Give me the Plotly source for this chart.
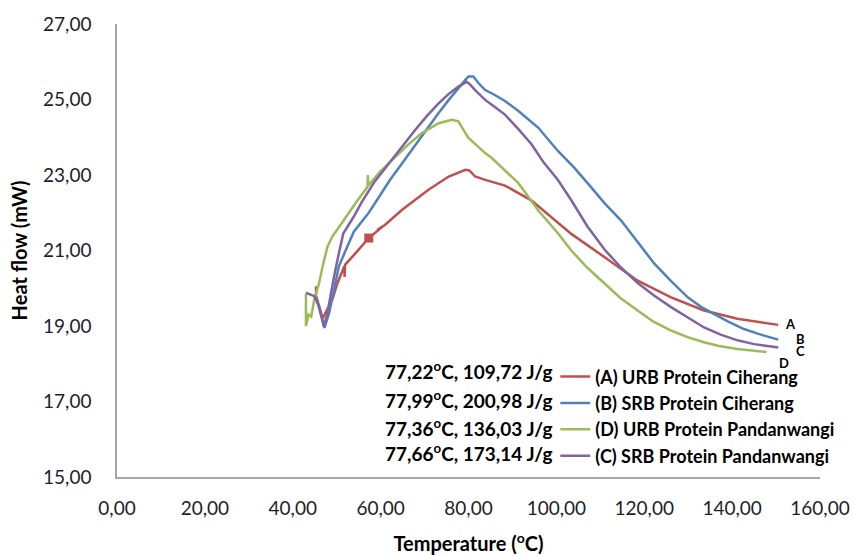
import plotly.graph_objects as go

# ---- data ----
a_x = [45.3, 45.3, 46.8, 49.0, 50.2, 51.7, 51.8, 51.9, 54.3, 57.3, 60.6, 59.2, 60.9, 64.9, 70.9, 75.5, 79.3, 80.2,
       81.5, 83.8, 88.3, 94.3, 100.4, 103.4, 111.0, 118.5, 126.1, 133.6, 141.2, 150.5]
a_y = [20.05, 19.8, 19.2, 19.7, 20.14, 20.58, 20.3, 20.62, 20.93, 21.33, 21.65, 21.55, 21.67, 22.08, 22.61, 22.96,
       23.14, 23.12, 22.96, 22.87, 22.72, 22.33, 21.75, 21.44, 20.82, 20.2, 19.76, 19.41, 19.19, 19.03]

b_x = [45.5, 46.5, 47.2, 48.3, 49.4, 50.5, 52.1, 53.9, 57.3, 59.6, 62.2, 64.9, 67.9, 70.9, 73.2, 75.5, 77.5, 79.3,
       80.0, 81.1, 82.3, 83.8, 86.0, 88.3, 91.3, 95.9, 100.4, 104.0, 107.2, 111.0, 114.7, 118.5, 122.3, 126.0,
       129.9, 133.0, 135.9, 139.0, 142.7, 146.0, 150.5]
b_y = [19.7, 19.25, 18.95, 19.35, 19.96, 20.58, 21.02, 21.5, 22.0, 22.43, 22.88, 23.31, 23.8, 24.28, 24.64, 24.99,
       25.28, 25.52, 25.61, 25.61, 25.43, 25.25, 25.12, 24.96, 24.7, 24.25, 23.63, 23.2, 22.77, 22.25, 21.8, 21.22,
       20.65, 20.2, 19.76, 19.5, 19.32, 19.12, 18.92, 18.79, 18.64]

d_x = [43.0, 43.0, 43.6, 44.2, 44.9, 46.0, 46.8, 47.9, 49.0, 50.5, 51.3, 54.3, 57.0, 57.1, 57.2, 60.0, 63.4, 66.5,
       69.4, 73.2, 76.2, 77.7, 79.3, 80.0, 83.8, 85.3, 91.3, 95.9, 100.4, 103.4, 107.0, 111.0, 114.5, 118.5, 122.0,
       126.1, 130.0, 133.6, 137.0, 141.2, 144.0, 147.8]
d_y = [19.85, 19.0, 19.3, 19.25, 19.7, 20.14, 20.58, 21.1, 21.37, 21.64, 21.75, 22.26, 22.68, 23.0, 22.72, 23.1,
       23.49, 23.83, 24.11, 24.37, 24.46, 24.42, 24.11, 23.98, 23.58, 23.45, 22.79, 22.06, 21.45, 21.0, 20.55, 20.12,
       19.75, 19.41, 19.12, 18.88, 18.7, 18.57, 18.47, 18.39, 18.35, 18.31]

c_x = [43.0, 44.9, 46.0, 46.8, 47.1, 47.9, 48.7, 49.4, 50.5, 51.5, 53.9, 55.8, 58.5, 61.9, 64.9, 67.9, 70.5, 73.2,
       75.5, 77.7, 79.6, 80.5, 81.5, 83.8, 86.0, 88.3, 91.3, 94.3, 97.0, 100.4, 103.4, 107.0, 111.0, 114.7, 118.5,
       122.3, 126.1, 129.9, 133.6, 137.4, 141.2, 145.0, 150.5]
c_y = [19.88, 19.79, 19.52, 19.08, 18.99, 19.35, 19.88, 20.31, 20.93, 21.45, 21.9, 22.3, 22.8, 23.31, 23.78, 24.2,
       24.56, 24.9, 25.15, 25.34, 25.47, 25.38, 25.25, 24.99, 24.8, 24.6, 24.22, 23.82, 23.35, 22.86, 22.33, 21.65,
       21.02, 20.55, 20.14, 19.8, 19.5, 19.22, 18.96, 18.77, 18.62, 18.52, 18.43]

names = ["(A) URB Protein Ciherang", "(B) SRB Protein Ciherang",
         "(D) URB Protein Pandanwangi", "(C) SRB Protein Pandanwangi"]
colors = ["#C0504D", "#4F81BD", "#9BBB59", "#8064A2"]
peak_texts = ["77,22<sup>o</sup>C, 109,72 J/g", "77,99<sup>o</sup>C, 200,98 J/g",
              "77,36<sup>o</sup>C, 136,03 J/g", "77,66<sup>o</sup>C, 173,14 J/g"]
end_letters = ["A", "B", "C", "D"]
end_x = [153.2, 155.5, 155.6, 151.9]
end_y = [19.04, 18.66, 18.33, 18.02]
marker_idx = 9  # red square marker position in series A

x_ticks = [0, 20, 40, 60, 80, 100, 120, 140, 160]
y_ticks = [15, 17, 19, 21, 23, 25, 27]

FONT = "Lato, 'Open Sans', sans-serif"
TXT = "#1e1e2a"

fig = go.Figure()
series = [(a_x, a_y), (b_x, b_y), (d_x, d_y), (c_x, c_y)]
for (xs, ys), nm, col in zip(series, names, colors):
    fig.add_trace(go.Scatter(x=xs, y=ys, mode="lines", name=nm,
                             line=dict(color=col, width=2.5)))

fig.add_trace(go.Scatter(x=[a_x[marker_idx]], y=[a_y[marker_idx]], mode="markers",
                         marker=dict(symbol="square", size=9, color=colors[0]),
                         showlegend=False, hoverinfo="skip"))

annotations = []
peak_y = [0.236, 0.170, 0.110, 0.055]
for t, py in zip(peak_texts, peak_y):
    annotations.append(dict(x=0.621, y=py, xref="paper", yref="paper", text="<b>" + t + "</b>",
                            showarrow=False, xanchor="right", yanchor="middle",
                            font=dict(family=FONT, size=19, color="#000000")))
for lt, ex, ey in zip(end_letters, end_x, end_y):
    annotations.append(dict(x=ex, y=ey, xref="x", yref="y", text="<b>" + lt + "</b>",
                            showarrow=False, font=dict(family=FONT, size=13, color="#000000")))

fig.update_layout(
    width=853, height=555,
    margin=dict(l=117, r=33, t=24, b=78, autoexpand=False),
    paper_bgcolor="white", plot_bgcolor="white",
    separators=",.",
    font=dict(family=FONT, color=TXT),
    showlegend=True,
    legend=dict(x=0.6235, y=0.262, xanchor="left", yanchor="top",
                bgcolor="rgba(0,0,0,0)", font=dict(family=FONT, size=18, color="#000000", weight="bold"),
                itemwidth=30, tracegroupgap=0),
    annotations=annotations,
    xaxis=dict(range=[0, 160], tickvals=x_ticks, tickformat=".2f", showgrid=False, zeroline=False,
               showline=True, linecolor="#a6a6a6", linewidth=1.5, ticks="", automargin=False,
               tickfont=dict(family=FONT, size=19, color=TXT), ticklabelstandoff=13,
               title=dict(text="<b>Temperature (<sup>o</sup>C)</b>", font=dict(family=FONT, size=20, color="#000000"),
                          standoff=20)),
    yaxis=dict(range=[15, 27], tickvals=y_ticks, tickformat=".2f", showgrid=False, zeroline=False,
               showline=True, linecolor="#a6a6a6", linewidth=1.5, ticks="", automargin=False,
               tickfont=dict(family=FONT, size=19, color=TXT), ticklabelstandoff=20,
               title=dict(text="<b>Heat flow (mW)</b>", font=dict(family=FONT, size=20, color="#000000"),
                          standoff=10)),
)

fig.write_html("out.html")
